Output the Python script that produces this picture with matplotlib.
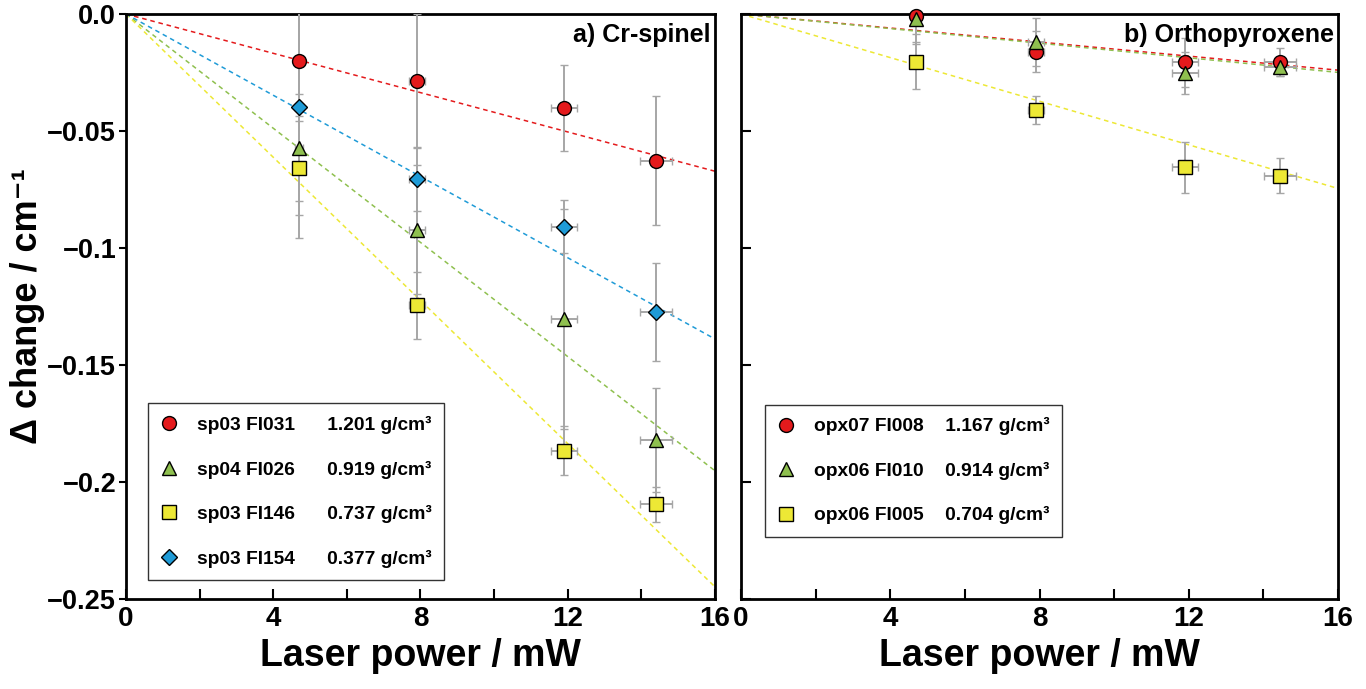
import numpy as np
import matplotlib
matplotlib.use("Agg")
import matplotlib.pyplot as plt

plt.rcParams.update({"font.family": ["Liberation Sans", "DejaVu Sans"],
                     "font.weight": "bold", "axes.linewidth": 2.0})

# ---- data: a) Cr-spinel ----
power_a = [4.7, 7.9, 11.9, 14.4]
power_a_err = [0.1, 0.22, 0.36, 0.43]
sp_names = ["sp03 FI031", "sp04 FI026", "sp03 FI146", "sp03 FI154"]
sp_dens = ["1.201 g/cm³", "0.919 g/cm³", "0.737 g/cm³", "0.377 g/cm³"]
sp_vals = [[-0.0202, -0.0286, -0.0403, -0.0627],
           [-0.0571, -0.0922, -0.1302, -0.1821],
           [-0.0657, -0.1245, -0.1867, -0.2095],
           [-0.0397, -0.0704, -0.0910, -0.1275]]
sp_errs = [[0.0234, 0.0288, 0.0183, 0.0276],
           [0.0230, 0.0276, 0.0470, 0.0222],
           [0.0200, 0.0144, 0.0105, 0.0075],
           [0.0560, 0.0137, 0.0113, 0.0210]]
sp_slopes = [-0.00420, -0.01220, -0.01530, -0.00868]

# ---- data: b) Orthopyroxene ----
power_b = [4.7, 7.9, 11.9, 14.45]
power_b_err = [0.1, 0.22, 0.36, 0.43]
opx_names = ["opx07 FI008", "opx06 FI010", "opx06 FI005"]
opx_dens = ["1.167 g/cm³", "0.914 g/cm³", "0.704 g/cm³"]
opx_vals = [[-0.0010, -0.0161, -0.0207, -0.0204],
            [-0.0020, -0.0121, -0.0254, -0.0225],
            [-0.0204, -0.0410, -0.0655, -0.0692]]
opx_errs = [[0.011, 0.0088, 0.0103, 0.0060],
            [0.011, 0.0103, 0.0090, 0.0040],
            [0.0117, 0.0060, 0.0110, 0.0075]]
opx_slopes = [-0.00150, -0.00156, -0.00466]

yticks = [0.0, -0.05, -0.1, -0.15, -0.2, -0.25]
ytick_labels = ["0.0", "\u22120.05", "\u22120.1", "\u22120.15", "\u22120.2", "\u22120.25"]
xticks = [0, 4, 8, 12, 16]

RED, GREEN, YELLOW, BLUE = "#e41a1c", "#8fc04f", "#ede835", "#1f9bd7"
sp_style = [(RED, "o", 10), (GREEN, "^", 10.5), (YELLOW, "s", 10), (BLUE, "D", 8)]
opx_style = [(RED, "o", 10), (GREEN, "^", 10.5), (YELLOW, "s", 10)]


def draw_panel(ax, power, perr, vals, errs, slopes, styles, names, dens, gap, title, leg_anchor):
    xx = np.array([0, 16])
    for s, (c, m, ms) in zip(slopes, styles):
        ax.plot(xx, s * xx, ls=(0, (3, 2.5)), color=c, lw=1.1, zorder=2)
    for v, e in zip(vals, errs):
        ax.errorbar(power, v, yerr=e, xerr=perr, fmt="none", ecolor="#a6a6a6",
                    elinewidth=1.4, capsize=3, capthick=1.0, zorder=3)
    handles = []
    for v, (c, m, ms) in zip(vals, styles):
        h, = ax.plot(power, v, ls="none", marker=m, ms=ms, mfc=c, mec="black",
                     mew=1.0, zorder=4, clip_on=False)
        handles.append(h)
    labels = [n + " " * gap + d for n, d in zip(names, dens)]
    leg = ax.legend(handles, labels, loc="lower left", bbox_to_anchor=leg_anchor,
                    borderaxespad=0, frameon=True, fancybox=False,
                    edgecolor="#333333", framealpha=1, handlelength=0.9,
                    handletextpad=1.0, labelspacing=1.38, borderpad=0.66,
                    prop={"weight": "bold", "size": 13.8})
    leg.get_frame().set_linewidth(1.0)
    ax.text(0.993, 0.985, title, transform=ax.transAxes, ha="right", va="top",
            fontsize=18, fontweight="bold")
    ax.set_xlim(0, 16)
    ax.set_ylim(-0.25, 0.0)
    ax.set_xticks(xticks)
    ax.set_xticks([2, 6, 10, 14], minor=True)
    ax.set_xticklabels([str(t) for t in xticks], fontsize=20, fontweight="bold")
    ax.tick_params(axis="x", which="both", direction="in", length=7, width=1.5,
                   pad=5, top=False)
    ax.set_yticks(yticks)
    ax.set_xlabel("Laser power / mW", fontsize=27, fontweight="bold", labelpad=4)


fig = plt.figure(figsize=(13.66, 6.89), dpi=100)
ax1 = fig.add_axes([0.0922, 0.1306, 0.4312, 0.8491])
ax2 = fig.add_axes([0.5425, 0.1306, 0.4370, 0.8491])

draw_panel(ax1, power_a, power_a_err, sp_vals, sp_errs, sp_slopes, sp_style,
           sp_names, sp_dens, 6, "a) Cr-spinel", (0.037, 0.032))
draw_panel(ax2, power_b, power_b_err, opx_vals, opx_errs, opx_slopes, opx_style,
           opx_names, opx_dens, 4, "b) Orthopyroxene", (0.040, 0.106))

ax1.set_yticklabels(ytick_labels, fontsize=19.5, fontweight="bold")
ax1.tick_params(axis="y", direction="out", length=5, width=1.5, pad=2, right=False)
ax1.set_ylabel("\u0394 change / cm\u207b\u00b9", fontsize=26, fontweight="bold", labelpad=2)

ax2.set_yticklabels([])
ax2.tick_params(axis="y", direction="in", length=7, width=1.5, right=False)

fig.savefig("out.png", dpi=100)
